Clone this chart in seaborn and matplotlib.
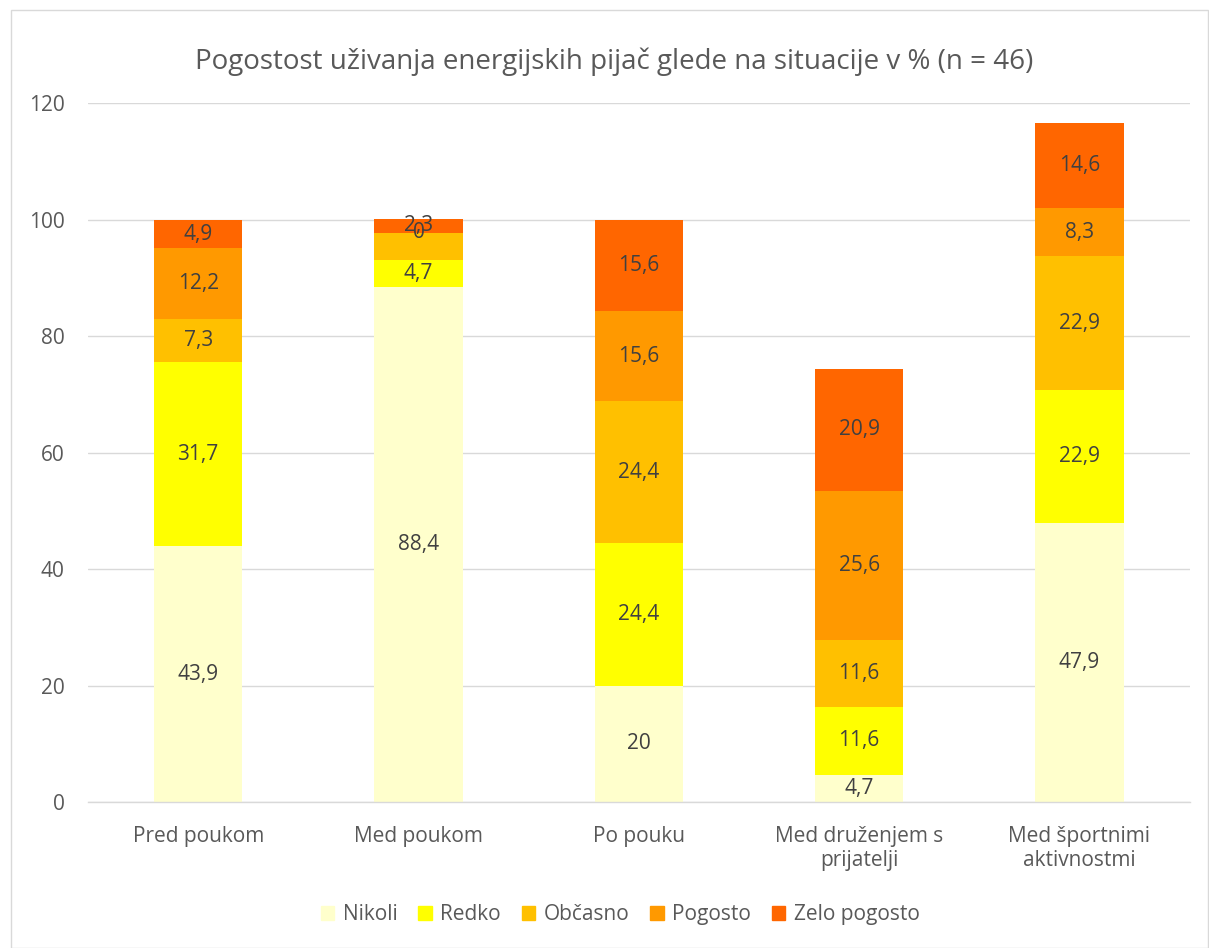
import matplotlib
matplotlib.use("Agg")
import matplotlib.pyplot as plt
import seaborn as sns
import pandas as pd
import numpy as np
from matplotlib.patches import Rectangle

categories = ["Pred poukom", "Med poukom", "Po pouku", "Med druženjem s\nprijatelji", "Med športnimi\naktivnostmi"]
series = ["Nikoli", "Redko", "Občasno", "Pogosto", "Zelo pogosto"]
nikoli = [43.9, 88.4, 20, 4.7, 47.9]
redko = [31.7, 4.7, 24.4, 11.6, 22.9]
obcasno = [7.3, 4.7, 24.4, 11.6, 22.9]
pogosto = [12.2, 0, 15.6, 25.6, 8.3]
zelo = [4.9, 2.3, 15.6, 20.9, 14.6]
# labels hidden in the original (series index, category index)
hidden_labels = [(2, 1)]
colors = ["#FFFFCC", "#FFFF00", "#FFC000", "#FF9900", "#FF6600"]

values = [nikoli, redko, obcasno, pogosto, zelo]

sns.set_theme(style="white")
plt.rcParams["font.family"] = ["Open Sans", "DejaVu Sans"]
txt = "#595959"

fig = plt.figure(figsize=(12.09, 9.48), dpi=100)
ax = fig.add_axes([0.0728, 0.154, 0.984 - 0.0728, 0.891 - 0.154])

bottom = np.zeros(len(categories))
for si, (name, vals, col) in enumerate(zip(series, values, colors)):
    df = pd.DataFrame({"cat": categories, "val": vals})
    sns.barplot(data=df, x="cat", y="val", color=col, width=0.4, bottom=bottom.copy(),
                ax=ax, label=name, saturation=1, linewidth=0, errorbar=None)
    cont = ax.containers[-1]
    labels = []
    for ci, v in enumerate(vals):
        if (si, ci) in hidden_labels:
            labels.append("")
        else:
            s = f"{v:g}".replace(".", ",")
            labels.append(s)
    ax.bar_label(cont, labels=labels, label_type="center", color="#404040", fontsize=15)
    bottom += np.array(vals)

ax.set_xlim(-0.5, 4.5)
ax.set_ylim(0, 120)
ax.set_yticks(range(0, 121, 20))
ax.yaxis.grid(True, color="#D9D9D9", linewidth=1)
ax.set_axisbelow(True)
for s in ["top", "right", "left"]:
    ax.spines[s].set_visible(False)
ax.spines["bottom"].set_color("#D9D9D9")
ax.spines["bottom"].set_linewidth(1)
ax.set_xlabel("")
ax.set_ylabel("")
ax.tick_params(axis="both", length=0, labelsize=15, labelcolor=txt)
ax.tick_params(axis="x", pad=17)
ax.tick_params(axis="y", pad=17)
if ax.legend_:
    ax.legend_.remove()

handles = [Rectangle((0, 0), 1, 1, color=c) for c in colors]
fig.legend(handles, series, loc="center", bbox_to_anchor=(0.513, 0.035), ncol=5, frameon=False,
           fontsize=15, labelcolor=txt, handlelength=0.65, handleheight=0.65, columnspacing=1.0,
           handletextpad=0.4)

fig.suptitle("Pogostost uživanja energijskih pijač glede na situacije v % (n = 46)", x=0.508, y=0.95,
             fontsize=20, color=txt)

fig.patches.append(Rectangle((0.009, 0.0), 0.99, 0.989, transform=fig.transFigure, fill=False,
                             edgecolor="#D9D9D9", linewidth=1))

fig.savefig("out.png", dpi=100)
